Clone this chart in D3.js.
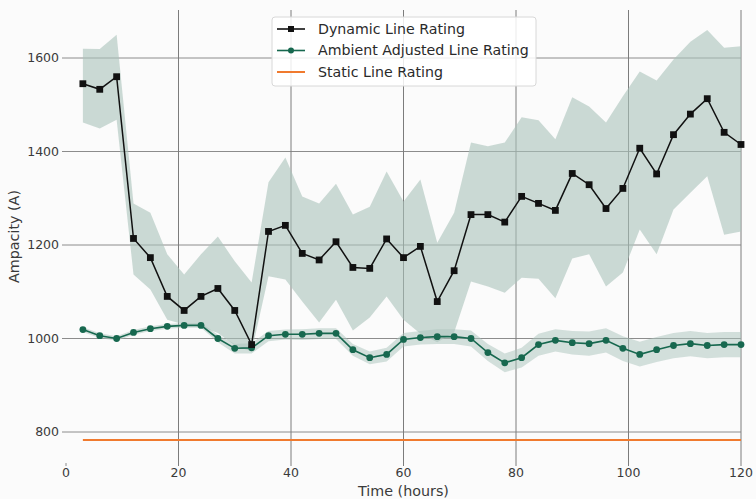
<!DOCTYPE html>
<html>
<head>
<meta charset="utf-8">
<script src="https://cdn.jsdelivr.net/npm/d3@7"></script>
<style>
  html, body { margin: 0; padding: 0; background: #fbfbfb; }
  svg { display: block; font-family: "DejaVu Sans", sans-serif; }
</style>
</head>
<body>
<div id="chart"></div>
<script>
// ---- data ----
const hours = [3,6,9,12,15,18,21,24,27,30,33,36,39,42,45,48,51,54,57,60,63,66,69,72,75,78,81,84,87,90,93,96,99,102,105,108,111,114,117,120];
const dlr = [1545,1533,1560,1214,1173,1090,1060,1090,1107,1060,987,1229,1242,1182,1168,1207,1152,1150,1213,1173,1197,1079,1145,1265,1265,1249,1304,1289,1274,1353,1329,1278,1321,1407,1352,1436,1480,1513,1441,1415];
const dlrHigh = [1620,1619,1650,1289,1269,1180,1137,1180,1218,1165,1120,1334,1387,1304,1289,1331,1265,1282,1357,1293,1340,1205,1269,1419,1411,1419,1473,1467,1426,1516,1496,1462,1518,1571,1552,1597,1635,1660,1622,1625];
const dlrLow = [1462,1449,1468,1137,1105,1040,1030,1025,1012,985,972,1133,1126,1079,1034,1083,1017,1045,1090,1040,1010,992,1013,1122,1111,1098,1130,1128,1086,1171,1180,1111,1141,1233,1180,1276,1312,1347,1222,1229];
const aar = [1019,1006,1000,1013,1021,1026,1028,1028,1000,979,980,1006,1009,1009,1011,1011,976,959,966,998,1002,1004,1004,1000,970,948,959,987,996,991,989,996,979,966,976,985,989,985,987,987];
const aarHigh = [1024,1011,1005,1018,1026,1031,1033,1033,1008,988,990,1016,1019,1020,1022,1022,988,972,980,1012,1016,1020,1020,1017,988,968,980,1010,1020,1016,1015,1022,1005,993,1003,1012,1016,1012,1014,1014];
const aarLow = [1014,1001,995,1008,1016,1021,1023,1023,992,968,968,994,998,997,999,999,963,945,951,983,987,988,988,983,952,928,938,963,972,966,963,970,952,940,950,958,962,958,960,960];
const staticRating = 783;
const xTicks = [0,20,40,60,80,100,120];
const yTicks = [800,1000,1200,1400,1600];
const seriesNames = ["Dynamic Line Rating","Ambient Adjusted Line Rating","Static Line Rating"];

// ---- layout ----
const W = 756, H = 499;
const pL = 66, pR = 741, pT = 10, pB = 463;
const x = d3.scaleLinear().domain([0,120]).range([pL,pR]);
const y = d3.scaleLinear().domain([800,1600]).range([432,58]);

const colDLR = "#111111", colAAR = "#17684f", colStatic = "#f07a2e", bandFill = "#aac3bb";

const svg = d3.select("#chart").append("svg").attr("width",W).attr("height",H);
svg.append("rect").attr("width",W).attr("height",H).attr("fill","#fbfbfb");

// grid
const grid = svg.append("g");
grid.selectAll("line.h").data(yTicks).join("line")
  .attr("x1",pL-4).attr("x2",pR).attr("y1",d=>y(d)).attr("y2",d=>y(d))
  .attr("stroke","#8c8c8c").attr("stroke-width",1);
grid.selectAll("line.v").data(xTicks.filter(d=>d>0)).join("line")
  .attr("x1",d=>x(d)).attr("x2",d=>x(d)).attr("y1",pT).attr("y2",pB+3)
  .attr("stroke","#7c7c7c").attr("stroke-width",1);
grid.append("line").attr("x1",x(0)).attr("x2",x(0)).attr("y1",pB).attr("y2",pB+3)
  .attr("stroke","#8c8c8c");

const idx = d3.range(hours.length);

// bands
const dlrArea = d3.area().x(i=>x(hours[i])).y0(i=>y(dlrLow[i])).y1(i=>y(dlrHigh[i]));
svg.append("path").attr("d",dlrArea(idx)).attr("fill",bandFill).attr("opacity",0.6);
const aarArea = d3.area().x(i=>x(hours[i])).y0(i=>y(aarLow[i])).y1(i=>y(aarHigh[i]));
svg.append("path").attr("d",aarArea(idx)).attr("fill",bandFill).attr("opacity",0.5);

// static line
svg.append("line").attr("x1",x(hours[0])).attr("x2",x(hours[hours.length-1]))
  .attr("y1",y(staticRating)).attr("y2",y(staticRating))
  .attr("stroke",colStatic).attr("stroke-width",2);

// AAR line
const lineA = d3.line().x(i=>x(hours[i])).y(i=>y(aar[i]));
svg.append("path").attr("d",lineA(idx)).attr("fill","none").attr("stroke",colAAR).attr("stroke-width",1.6);
svg.selectAll("circle.aar").data(idx).join("circle")
  .attr("cx",i=>x(hours[i])).attr("cy",i=>y(aar[i])).attr("r",3.4).attr("fill",colAAR);

// DLR line
const lineD = d3.line().x(i=>x(hours[i])).y(i=>y(dlr[i]));
svg.append("path").attr("d",lineD(idx)).attr("fill","none").attr("stroke",colDLR).attr("stroke-width",1.5);
svg.selectAll("rect.dlr").data(idx).join("rect")
  .attr("x",i=>x(hours[i])-3.4).attr("y",i=>y(dlr[i])-3.4).attr("width",6.8).attr("height",6.8).attr("fill",colDLR);

// tick labels
const txt = "#3a3a3a";
svg.selectAll("text.yt").data(yTicks).join("text")
  .attr("x",pL-7).attr("y",d=>y(d)).attr("dy","0.35em").attr("text-anchor","end")
  .attr("font-size",12.5).attr("fill",txt).text(d=>d);
svg.selectAll("text.xt").data(xTicks).join("text")
  .attr("x",d=>x(d)).attr("y",477).attr("text-anchor","middle")
  .attr("font-size",12.5).attr("fill",txt).text(d=>d);
svg.append("text").attr("x",(pL+pR)/2).attr("y",495.5).attr("text-anchor","middle")
  .attr("font-size",14.3).attr("fill",txt).text("Time (hours)");
svg.append("text").attr("transform",`translate(19,${(pT+pB)/2}) rotate(-90)`)
  .attr("text-anchor","middle").attr("font-size",14.3).attr("fill",txt).text("Ampacity (A)");

// legend
const lg = svg.append("g").attr("transform","translate(272,17)");
lg.append("rect").attr("width",264).attr("height",69).attr("rx",3)
  .attr("fill","#ffffff").attr("fill-opacity",0.85).attr("stroke","#d8d8d8");
const rows = [
  {name:seriesNames[0], color:colDLR, marker:"square"},
  {name:seriesNames[1], color:colAAR, marker:"circle"},
  {name:seriesNames[2], color:colStatic, marker:null}
];
rows.forEach((r,k)=>{
  const ry = 12 + k*21.5;
  lg.append("line").attr("x1",5).attr("x2",33).attr("y1",ry).attr("y2",ry)
    .attr("stroke",r.color).attr("stroke-width", r.marker ? 1.6 : 2);
  if (r.marker==="square") lg.append("rect").attr("x",19-3).attr("y",ry-3).attr("width",6).attr("height",6).attr("fill",r.color);
  if (r.marker==="circle") lg.append("circle").attr("cx",19).attr("cy",ry).attr("r",3).attr("fill",r.color);
  lg.append("text").attr("x",46).attr("y",ry).attr("dy","0.35em").attr("font-size",14.2)
    .attr("fill","#2a2a2a").text(r.name);
});
</script>
</body>
</html>
